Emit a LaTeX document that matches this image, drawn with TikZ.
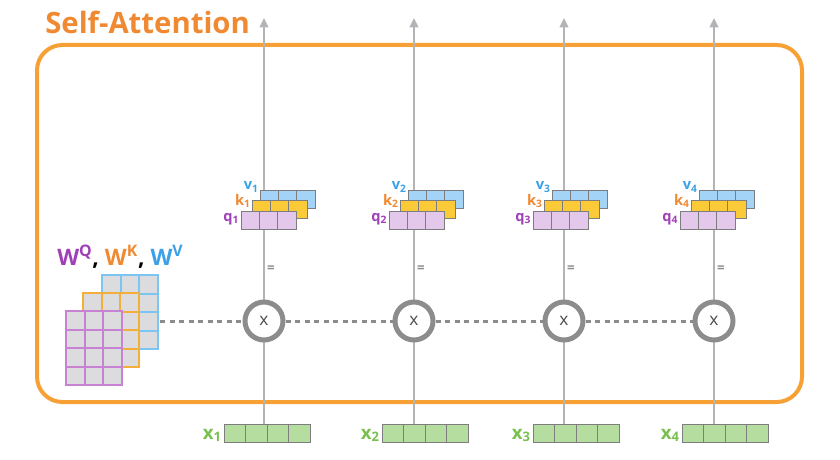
\documentclass[tikz,border=0pt]{standalone}
\usepackage{fontspec}
\setmainfont{Open Sans}
\usepackage{xcolor}
\definecolor{sa-orange}{RGB}{247,160,53}
\definecolor{title-orange}{RGB}{240,138,50}
\definecolor{line-gray}{RGB}{180,180,184}
\definecolor{mid-gray}{RGB}{140,140,140}
\definecolor{cell-gray}{RGB}{125,125,128}
\definecolor{q-fill}{RGB}{228,200,236}
\definecolor{k-fill}{RGB}{250,202,56}
\definecolor{v-fill}{RGB}{163,212,247}
\definecolor{x-fill}{RGB}{181,221,160}
\definecolor{q-text}{RGB}{160,64,184}
\definecolor{k-text}{RGB}{240,138,50}
\definecolor{v-text}{RGB}{60,160,230}
\definecolor{x-text}{RGB}{120,192,80}
\definecolor{w-fill}{RGB}{220,220,222}
\definecolor{wq-line}{RGB}{200,130,210}
\definecolor{wk-line}{RGB}{244,174,58}
\definecolor{wv-line}{RGB}{124,196,242}
\usepackage{tikz}
\usetikzlibrary{arrows.meta,positioning}

\begin{document}
\begin{tikzpicture}[x=0.75pt,y=-0.75pt,
	>={Triangle[width=6.5pt,length=7pt]},
	lbl/.style={font=\fontsize{11}{13}\selectfont\bfseries,inner sep=0pt,anchor=base east},
	vcell/.style={draw=cell-gray,line width=.6pt},
	xbox/.style={draw=cell-gray,fill=x-fill,line width=.7pt,minimum width=64.5pt,
		minimum height=13.5pt,inner sep=0pt,anchor=north west},
	mult/.style={circle,draw=mid-gray,fill=white,line width=3.75pt,minimum size=28.5pt,
		inner sep=0pt,font=\fontsize{13}{15}\selectfont,text=black!70},
	wcell/.style={fill=w-fill,line width=1.5pt}]
	\useasboundingbox (0,0) rectangle (840,460);
	
	\draw[sa-orange,line width=3pt,rounded corners=19pt] (37,45) rectangle (802,402);
	\node[font=\fontsize{22}{24}\selectfont\bfseries,text=title-orange,
		anchor=base west,inner sep=0pt] (title) at (45,34) {Self-Attention};
	
	\foreach \n/\lx/\qx/\xx in 
	{1/264/241/224,2/414/389/382,3/564/533/533,4/714/680/682}{
		\node[xbox] (x\n) at (\xx,424) {};
		\foreach \i in {1,2,3}
			\draw[cell-gray,line width=.7pt] (\xx+\i*21.5,424) -- ++(0,18);
		\node[lbl,text=x-text,font=\fontsize{14}{16}\selectfont\bfseries]
			(xl\n) at (\xx-2,439) {x\textsubscript{\n}};
		
		\coordinate (top\n) at (\lx,18);
		\draw[->,line-gray,line width=1.5pt] (top\n |- x\n.north) -- (top\n);
		
		\foreach \i in {0,1,2}
			\draw[vcell,fill=v-fill] (\qx+19+\i*18.3,190) rectangle ++(18.3,18);
		\foreach \i in {0,1,2}
			\draw[vcell,fill=k-fill] (\qx+11+\i*18.3,200.5) rectangle ++(18.3,18);
		\foreach \i in {0,1,2}
			\draw[vcell,fill=q-fill] (\qx+\i*18.3,211) rectangle ++(18.3,18);
		\node[lbl,text=v-text] (v\n) at (\qx+18,190) {v\textsubscript{\n}};
		\node[lbl,text=k-text] (k\n) at (\qx+10,205) {k\textsubscript{\n}};
		\node[lbl,text=q-text] (q\n) at (\qx-1.5,221) {q\textsubscript{\n}};
		
		\node[text=mid-gray,font=\fontsize{10}{11}\selectfont\bfseries,inner sep=0pt]
			(eq\n) at (\lx+7,269) {=};
		\node[mult] (c\n) at (\lx,321) {x};
	}
	
	\coordinate (w) at (160,321);
	\draw[mid-gray,line width=2.25pt,dash pattern=on 3.75pt off 3.4pt]
		(w) -- (c1) -- (c2) -- (c3) -- (c4);
	
	\foreach \gx/\gy/\gc in {102/275/wv-line,83/293/wk-line,66/311/wq-line}{
		\foreach \i in {0,1,2}
			\foreach \j in {0,...,3}
				\draw[wcell,draw=\gc] (\gx+\i*18.6,\gy+\j*18.5) rectangle ++(18.6,18.5);
	}
	\node[font=\fontsize{17}{20}\selectfont\bfseries,anchor=base west,inner sep=0pt]
		(wlbl) at (57,265) {\textcolor{q-text}{W\textsuperscript{Q}}, 
		\textcolor{k-text}{W\textsuperscript{K}}, \textcolor{v-text}{W\textsuperscript{V}}};
\end{tikzpicture}
\end{document}
